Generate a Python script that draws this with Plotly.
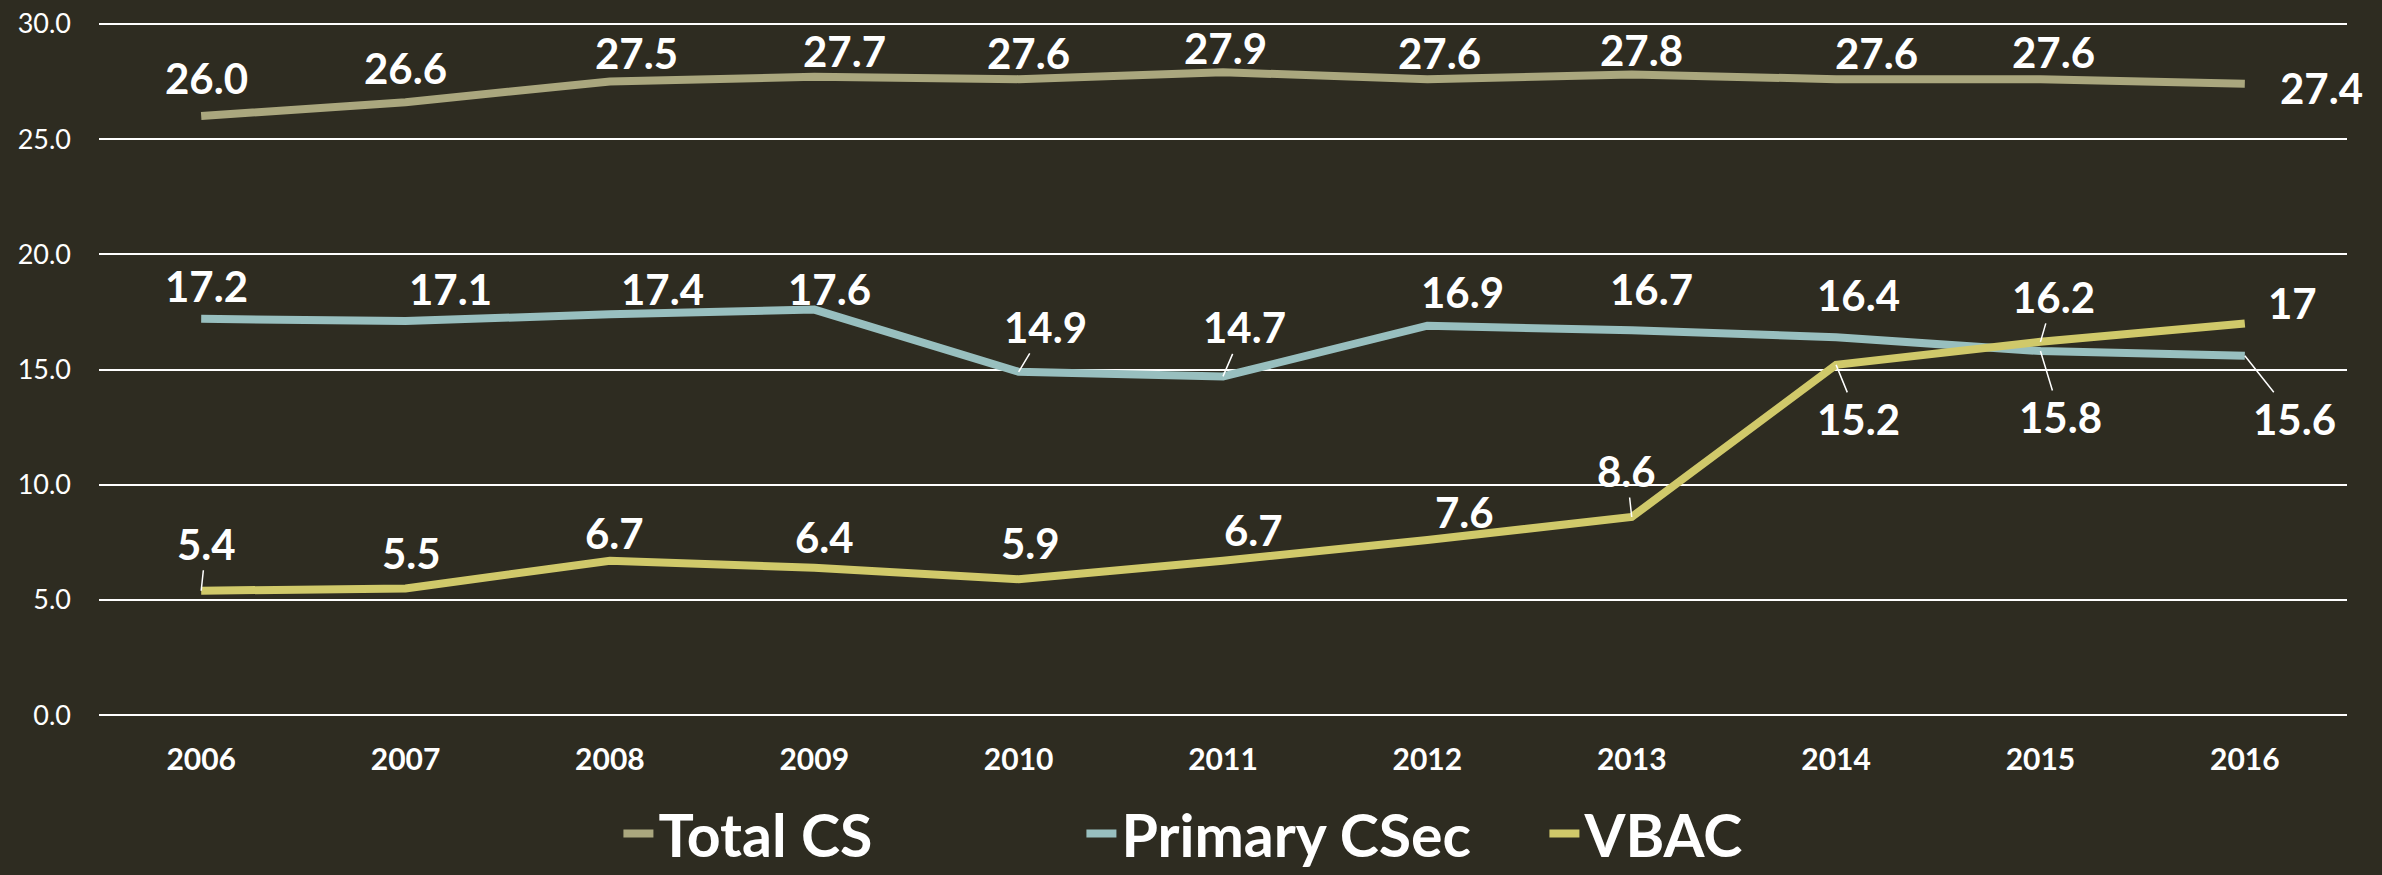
import plotly.graph_objects as go

# ---------------- data ----------------
years = [2006, 2007, 2008, 2009, 2010, 2011, 2012, 2013, 2014, 2015, 2016]
total_cs = [26.0, 26.6, 27.5, 27.7, 27.6, 27.9, 27.6, 27.8, 27.6, 27.6, 27.4]
primary_csec = [17.2, 17.1, 17.4, 17.6, 14.9, 14.7, 16.9, 16.7, 16.4, 15.8, 15.6]
vbac = [5.4, 5.5, 6.7, 6.4, 5.9, 6.7, 7.6, 8.6, 15.2, 16.2, 17]
y_ticks = [0, 5, 10, 15, 20, 25, 30]

series_names = ["Total CS", "Primary CSec", "VBAC"]

# ---------------- style ----------------
BG = "#2e2c21"
colors = ["#aaa77e", "#98bfbf", "#d0c96a"]
FONT = "Lato"
LABEL_SIZE = 42
DY_FIX = 4

# label offsets (pixels, label centre relative to point; +dy = down) and leader flags
total_off = [(5, -42), (0, -38), (27, -32), (30, -30), (10, -30), (2, -28),
             (12, -30), (10, -29), (40, -30), (13, -31), (77, 0)]
total_lead = [False] * 11
primary_off = [(5, -37), (45, -36), (53, -29), (15, -25), (27, -49), (21, -53),
               (35, -38), (20, -45), (22, -46), (20, 62), (50, 59)]
primary_lead = [False, False, False, False, True, True, False, False, False, True, True]
vbac_off = [(5, -51), (6, -39), (5, -32), (10, -35), (12, -40), (30, -35),
            (37, -32), (-5, -50), (22, 50), (13, -49), (48, -24)]
vbac_lead = [True, False, False, False, False, False, False, True, True, True, False]

fig = go.Figure()
for name, vals, col in zip(series_names, [total_cs, primary_csec, vbac], colors):
    fig.add_trace(go.Scatter(
        x=years, y=vals, name=name, mode="lines",
        line=dict(color=col, width=8),
        hoverinfo="skip",
    ))

label_sets = [
    (total_cs, total_off, total_lead, lambda v: f"{v:.1f}"),
    (primary_csec, primary_off, primary_lead, lambda v: f"{v:.1f}"),
    (vbac, vbac_off, vbac_lead, lambda v: f"{v:g}"),
]
for vals, offs, leads, fmt in label_sets:
    for yr, v, (dx, dy), lead in zip(years, vals, offs, leads):
        dy = dy + DY_FIX
        if lead:
            fig.add_annotation(x=yr, y=v, xref="x", yref="y",
                               text="<b>" + fmt(v) + "</b>",
                               font=dict(family=FONT, size=LABEL_SIZE, color="white"),
                               showarrow=True, arrowhead=0, arrowwidth=1.5,
                               arrowcolor="white", ax=dx, ay=dy)
        else:
            fig.add_annotation(x=yr, y=v, xref="x", yref="y",
                               text="<b>" + fmt(v) + "</b>",
                               font=dict(family=FONT, size=LABEL_SIZE, color="white"),
                               showarrow=False, xanchor="center", yanchor="middle",
                               xshift=dx, yshift=-dy)

fig.update_layout(
    width=2382, height=875,
    paper_bgcolor=BG, plot_bgcolor=BG,
    margin=dict(l=99, r=35, t=22, b=158, autoexpand=False),
    font=dict(family=FONT, color="white"),
    showlegend=True,
    legend=dict(
        orientation="h", x=0.540, xanchor="center", y=-0.168, yanchor="middle",
        font=dict(family=FONT, size=59, color="white", weight="bold"),
        bgcolor="rgba(0,0,0,0)", entrywidth=418, entrywidthmode="pixels",
        itemwidth=30, tracegroupgap=0, borderwidth=0,
    ),
    xaxis=dict(
        range=[2005.5, 2016.5], tickvals=years, showgrid=False, zeroline=False,
        showline=False, ticks="", automargin=False,
        tickfont=dict(family=FONT, size=30, color="white", weight="bold"),
        ticklabelstandoff=22,
    ),
    yaxis=dict(
        range=[-0.08, 30.08], tickvals=y_ticks, tickformat=".1f",
        showgrid=True, gridcolor="white", gridwidth=2, automargin=False,
        zeroline=False, showline=False, ticks="",
        tickfont=dict(family=FONT, size=27, color="white"),
        ticklabelstandoff=27,
    ),
)

fig.write_html("out.html", config={"displayModeBar": False},
               post_script="document.body.style.margin='0';")
